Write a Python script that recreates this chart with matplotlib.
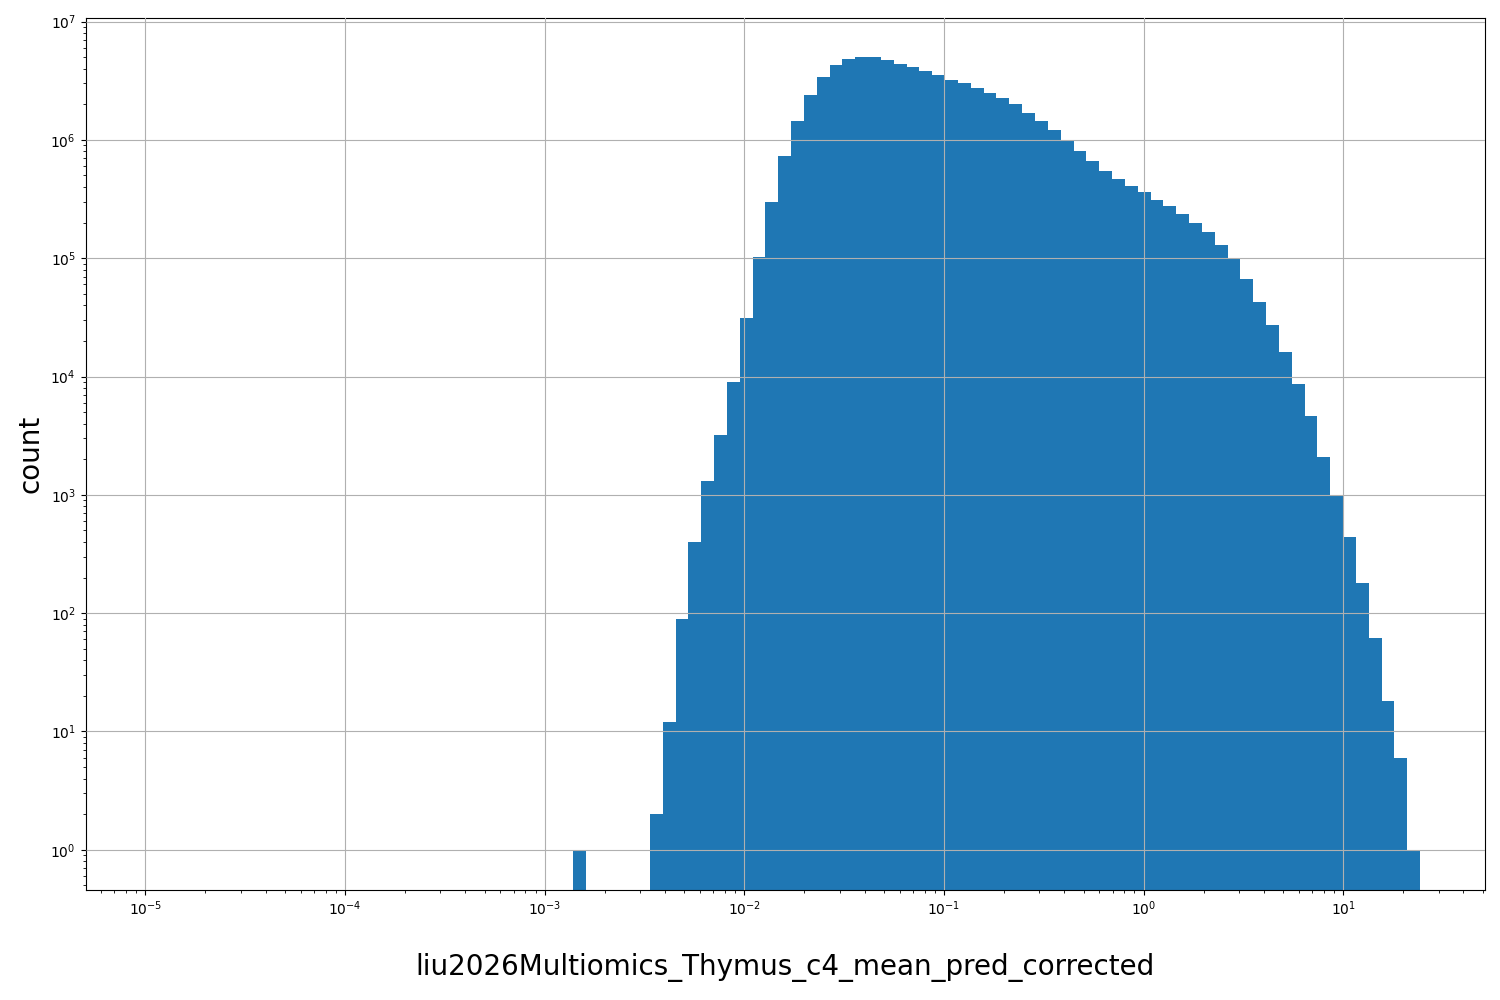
import numpy as np
import matplotlib
matplotlib.use("Agg")
import matplotlib.pyplot as plt

edges = np.logspace(-5.045, 1.385, 101)
counts = np.zeros(100)
counts[34] = 1
main_counts = [2, 12, 90, 400, 1300, 3200, 9000, 31000, 1.03e5, 3.0e5,
               7.3e5, 1.45e6, 2.4e6, 3.4e6, 4.3e6, 4.8e6, 5.0e6, 5.0e6, 4.7e6, 4.4e6,
               4.1e6, 3.8e6, 3.5e6, 3.2e6, 3.0e6, 2.75e6, 2.5e6, 2.25e6, 2.0e6, 1.7e6,
               1.45e6, 1.2e6, 1.0e6, 8.0e5, 6.6e5, 5.5e5, 4.7e5, 4.1e5, 3.6e5, 3.1e5,
               2.75e5, 2.35e5, 2.0e5, 1.65e5, 1.3e5, 9.8e4, 6.7e4, 4.3e4, 2.7e4, 1.6e4,
               8.7e3, 4.6e3, 2.1e3, 1000, 440, 180, 62, 18, 6, 1]
counts[40:100] = main_counts

fig, ax = plt.subplots(figsize=(15, 10), dpi=100)
mask = counts > 0
ax.bar(edges[:-1][mask], counts[mask], width=np.diff(edges)[mask], align='edge',
       color='#1f77b4', zorder=2)
ax.set_xscale('log')
ax.set_yscale('log')
ax.set_xlim(10**-5.3, 10**1.71)
ax.set_ylim(10**-0.34, 10**7.03)
ax.grid(True, zorder=0)
ax.set_axisbelow(False)
ax.set_xlabel('liu2026Multiomics_Thymus_c4_mean_pred_corrected', fontsize=20, labelpad=25)
ax.set_ylabel('count', fontsize=20)
plt.subplots_adjust(left=0.057, right=0.99, top=0.982, bottom=0.11)
fig.savefig('out.png')
